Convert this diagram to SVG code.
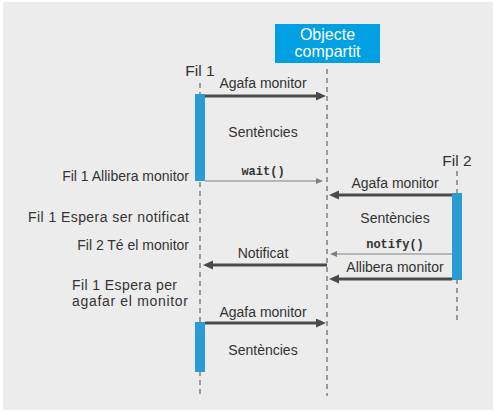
<svg xmlns="http://www.w3.org/2000/svg" width="495" height="412" viewBox="0 0 495 412">
<style>
text{font-family:"Liberation Sans",Arial,sans-serif;font-size:14px;fill:#333}
.c{text-anchor:middle}
.r{text-anchor:end}
.h{font-size:15.5px}
.m{font-family:"Liberation Mono","Courier New",monospace;font-size:12px;font-weight:bold}
.w{fill:#fff;font-size:16px}
.life{stroke:#666;stroke-width:1.2;stroke-dasharray:5 4;fill:none}
.bar{fill:#2a9bd4}
.thick{stroke:#4a4a4a;stroke-width:3;fill:none}
.thin{stroke:#808080;stroke-width:1.2;fill:none}
</style>
<defs>
<marker id="ah" markerUnits="userSpaceOnUse" markerWidth="10" markerHeight="10" refX="0" refY="4.5" orient="auto">
<path d="M0,0 L10,4.5 L0,9 z" fill="#4a4a4a"/>
</marker>
<marker id="ahs" markerUnits="userSpaceOnUse" markerWidth="8" markerHeight="8" refX="0" refY="3" orient="auto">
<path d="M0,0 L7,3 L0,6 z" fill="#808080"/>
</marker>
</defs>
<rect x="3" y="2" width="490" height="408" fill="#ececec"/>

<g id="objecte">
<rect x="275" y="24" width="105" height="39" fill="#00a0e3"/>
<text class="c w" x="327.5" y="40">Objecte</text>
<text class="c w" x="327.5" y="57">compartit</text>
<line class="life" x1="327" y1="69" x2="327" y2="396"/>
</g>

<g id="fil1">
<text class="c h" x="200" y="76">Fil 1</text>
<line class="life" x1="200" y1="83" x2="200" y2="396"/>
<rect class="bar" x="195" y="94" width="10" height="87"/>
<rect class="bar" x="195" y="322" width="10" height="50"/>
</g>

<g id="fil2">
<text class="c h" x="457" y="165.5">Fil 2</text>
<line class="life" x1="457" y1="171" x2="457" y2="320"/>
<rect class="bar" x="452" y="193" width="10" height="87"/>
</g>

<g id="connectors">
<line class="thick" x1="205" y1="96" x2="316" y2="96" marker-end="url(#ah)"/>
<line class="thin" x1="205" y1="181" x2="316" y2="181" marker-end="url(#ahs)"/>
<line class="thick" x1="452" y1="195" x2="339" y2="195" marker-end="url(#ah)"/>
<line class="thin" x1="452" y1="254" x2="337" y2="254" marker-end="url(#ahs)"/>
<line class="thick" x1="327" y1="265" x2="213" y2="265" marker-end="url(#ah)"/>
<line class="thick" x1="452" y1="279" x2="339" y2="279" marker-end="url(#ah)"/>
<line class="thick" x1="205" y1="323" x2="316" y2="323" marker-end="url(#ah)"/>
</g>

<g id="labels">
<text class="c" x="263" y="88">Agafa monitor</text>
<text class="c" x="263" y="137">Sentències</text>
<text class="c m" x="263" y="175">wait()</text>
<text class="c" x="395" y="188">Agafa monitor</text>
<text class="c" x="395" y="223">Sentències</text>
<text class="c m" x="395" y="248">notify()</text>
<text class="c" x="263" y="258">Notificat</text>
<text class="c" x="395" y="272">Allibera monitor</text>
<text class="c" x="263" y="317">Agafa monitor</text>
<text class="c" x="263" y="355">Sentències</text>
<text class="r" x="189" y="181">Fil 1 Allibera monitor</text>
<text class="r" x="189" y="222" textLength="161" lengthAdjust="spacing">Fil 1 Espera ser notificat</text>
<text class="r" x="189" y="250">Fil 2 Té el monitor</text>
<text x="72" y="290" textLength="105" lengthAdjust="spacing">Fil 1 Espera per</text>
<text x="72" y="306" textLength="116" lengthAdjust="spacing">agafar el monitor</text>
</g>
</svg>
